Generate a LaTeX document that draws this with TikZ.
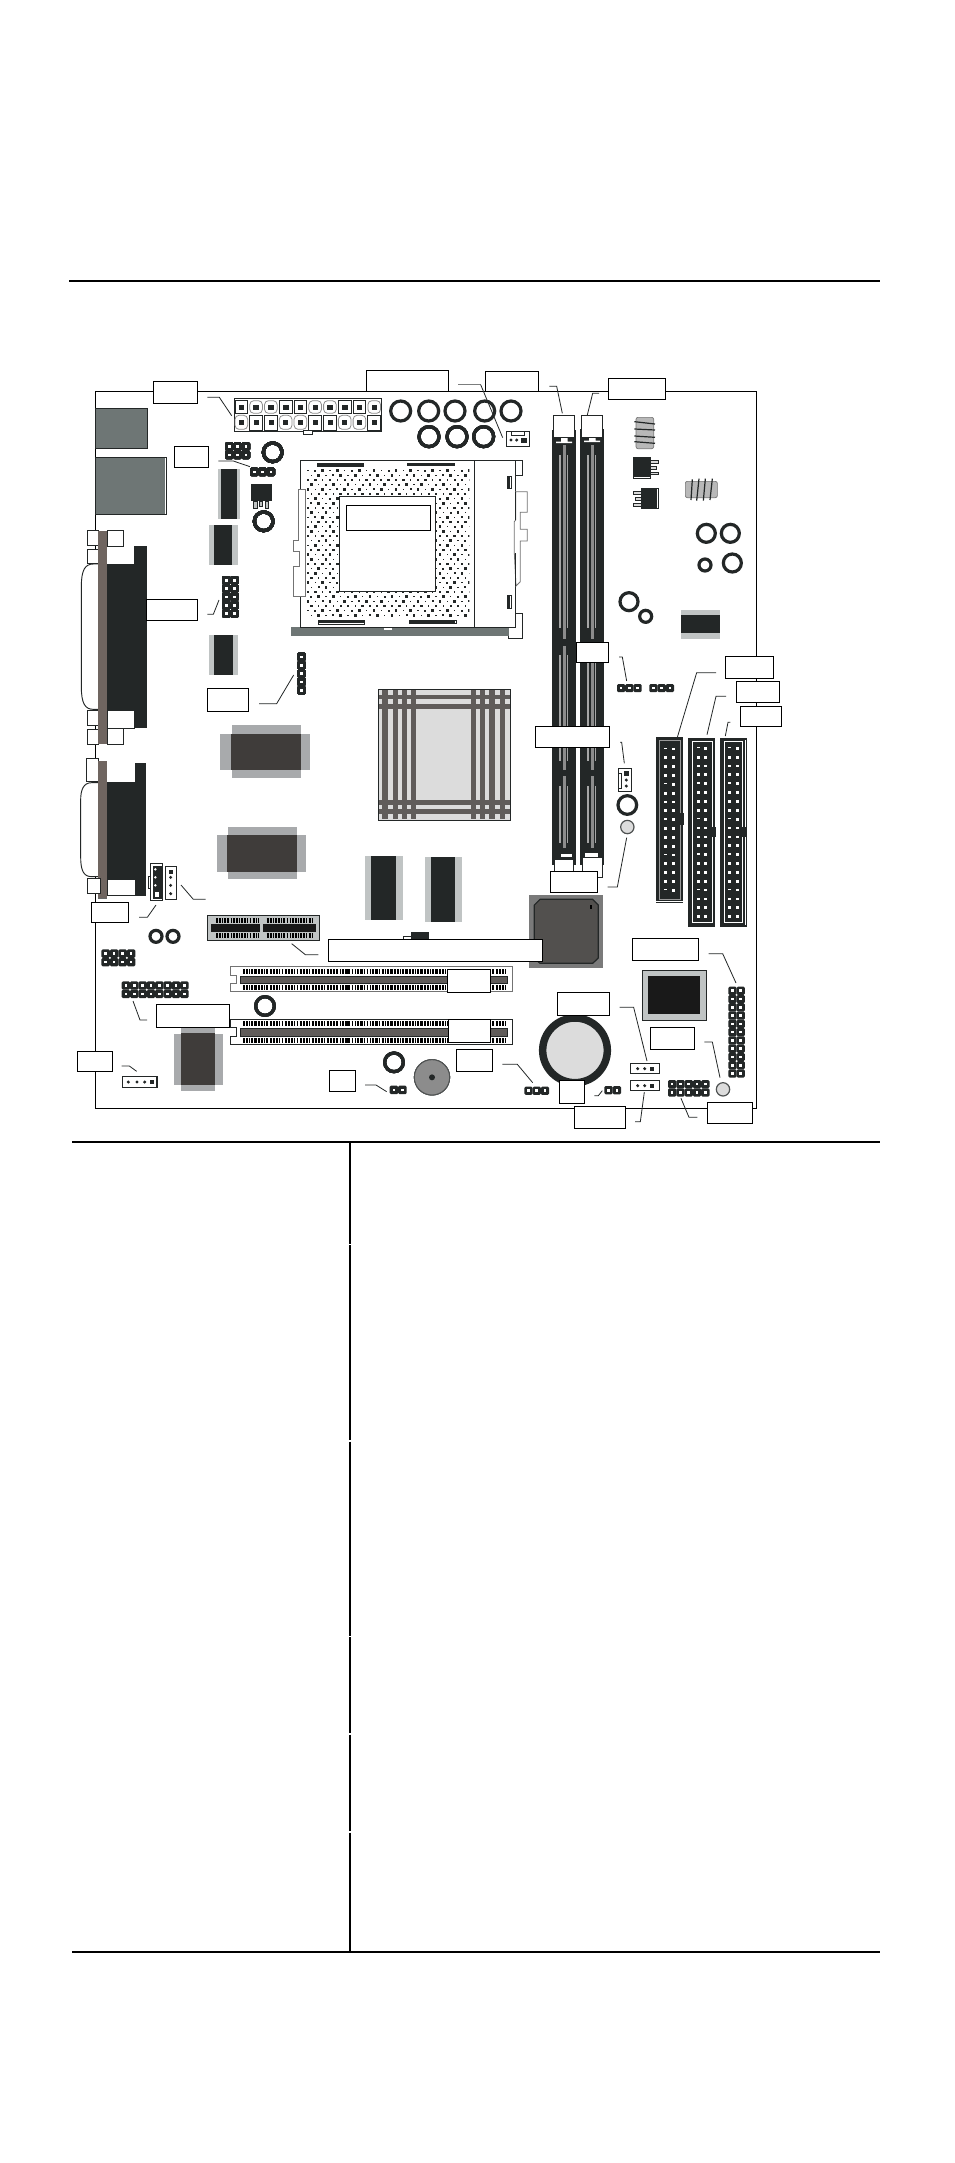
\documentclass[tikz,border=0pt]{standalone}
\definecolor{dk}{HTML}{232727}
\definecolor{usb}{HTML}{6E7675}
\definecolor{brn}{HTML}{6F6560}
\definecolor{lg}{HTML}{C0C4C4}
\definecolor{mg}{HTML}{A8AAAC}
\definecolor{chipd}{HTML}{3F3C3A}
\definecolor{strip}{HTML}{605C5A}
\definecolor{sink}{HTML}{DCDCDC}
\tikzset{
 Za/.style={shift={(70,360)},x=.25pt,y=-.25pt},
 Zb/.style={shift={(500,360)},x=.25pt,y=-.25pt},
 Zc/.style={shift={(70,770)},x=.25pt,y=-.25pt},
 Zd/.style={shift={(500,770)},x=.25pt,y=-.25pt},
 Ze/.style={shift={(290,450)},x=.25pt,y=-.25pt},
 Zf/.style={shift={(370,680)},x=.25pt,y=-.25pt},
 ln/.style={draw=dk,line width=.7pt},
 lead/.style={draw=dk,line width=.6pt},
 leadg/.style={draw=dk!60,line width=.6pt},
 lbl/.style={draw=black,fill=white,line width=.75pt,inner sep=0pt,outer sep=0pt},
 wt/.style={draw=dk,fill=white,line width=.6pt},
 leg/.style={draw=dk,fill=lg,line width=.5pt},
}
% ring: x y outer radius
\newcommand{\ringm}[3]{\draw[dk,line width=2.4pt] (#1,#2) circle ({#3-5});}
% gray circle
\newcommand{\pearl}[3]{\draw[dk!80,fill=sink,line width=.9pt] (#1,#2) circle (#3);}
% pin block: x y nx ny pitch
\newcommand{\pinsm}[5]{%
 \foreach \i in {1,...,#3}{\foreach \j in {1,...,#4}{%
  \fill[dk,rounded corners=1pt] ({#1+(\i-1)*#5},{#2+(\j-1)*#5}) rectangle ++(#5,#5);
  \fill[white] ({#1+(\i-1)*#5+#5/2-4},{#2+(\j-1)*#5+#5/2-4}) rectangle ++(8,8);
 }}}
% label box: name x0 y0 x1 y1
\newcommand{\boxm}[5]{\path ({(#2+#4)/2},{(#3+#5)/2}) node[lbl,minimum width={(#4-#2)*.25pt},minimum height={(#5-#3)*.25pt}] (#1) {};}
% ide pins
\newcommand{\idepins}[5]{%
 \foreach \k in {1,...,#4}{%
  \pgfmathtruncatemacro\m{mod(\k,4)}
  \fill[white] (#1,{#3+(\k-1)*#5-1.4}) rectangle ++(3.4,{\m==1?1.4:2.8});
  \fill[white] (#2,{#3+(\k-1)*#5-1.4}) rectangle ++(2.8,2.8);
 }}
% pci teeth
\newcommand{\teeth}[4]{\draw[black,line width=3.7pt,dash pattern=on 1.4pt off .9pt on 1.4pt off .9pt on .6pt off 1.1pt on 1.4pt off .9pt on 2pt off .7pt] (#1,#2) -- (#3,#2);}
\begin{document}
\begin{tikzpicture}[x=.75pt,y=-.75pt]
\useasboundingbox (0,0) rectangle (954,2163);
\fill[white] (0,0) rectangle (954,2163);
% rules and table
\draw[black,line width=1.6pt] (69,281) -- (880,281);
\draw[black,line width=2.1pt] (72,1142) -- (880,1142);
\draw[black,line width=1.6pt] (72,1952) -- (880,1952);
\foreach \a/\b in {1142/1244,1245.2/1440.4,1441.6/1635.8,1637/1733.4,1734.6/1831.4,1832.6/1952}
 \draw[black,line width=1.8pt] (350,\a) -- (350,\b);
% board
\draw[black,line width=.75pt] (95.5,391.5) rectangle (756,1108.5);

% ---- DIMM slots (absolute)
\fill[dk] (552.3,430) rectangle (576,865);
\fill[dk] (580,429) rectangle (604,865);
\foreach \c in {564.3,592.3}{
 \draw[black!45,line width=2pt] (\c,445) -- (\c,639);
 \draw[black!45,line width=2pt] (\c,646) -- (\c,770);
 \draw[black!45,line width=2pt] (\c,776) -- (\c,848);
 \foreach \s in {-4.3,3}{
  \draw[black!35,line width=.9pt] (\c+\s,455) -- (\c+\s,628);
  \draw[black!35,line width=.9pt] (\c+\s,655) -- (\c+\s,761);
  \draw[black!35,line width=.9pt] (\c+\s,786) -- (\c+\s,843);
 }}
\begin{scope}[Zb]
 \draw[wt] (160,166) rectangle (224,232);
 \draw[wt] (244,166) rectangle (308,232);
 \fill[white] (183,234) rectangle (203,245) (168,245) rectangle (216,249);
 \fill[white] (267,234) rectangle (287,243) (252,242) rectangle (300,246);
\end{scope}
\begin{scope}[Zf]
 \fill[white] (572,522) rectangle (606,532);
 \fill[white] (645,518) rectangle (685,530);
 \draw[wt] (554,537) rectangle (610,580);
 \draw[wt] (638,533) rectangle (697,592);
\end{scope}

% ---- IDE connectors (absolute)
\fill[dk] (656,737.3) rectangle (683,903.3);
\draw[black!40,line width=.7pt] (659.5,740.7) rectangle (680,899);
\draw[white,line width=.7pt] (656,901.6) -- (683,901.6);
\fill[dk] (679,813) rectangle (683.5,825);
\idepins{663.5}{672}{749}{17}{8.83}
\fill[dk] (688,738) rectangle (715,926.7);
\draw[white,line width=.7pt] (692,741) rectangle (712,922.7);
\fill[dk] (709,827) rectangle (715.5,837);
\idepins{696.5}{704}{748.3}{20}{8.86}
\fill[dk] (720,738) rectangle (746.7,926.7);
\draw[white,line width=.7pt] (724,741) rectangle (742.7,922.7);
\draw[white,line width=.6pt] (745.2,740) -- (745.2,925);
\fill[dk] (740,827) rectangle (745.7,837);
\idepins{728}{736}{748.3}{20}{8.86}

\begin{scope}[Za]
 % USB
 \draw[ln,fill=usb] (76,145) rectangle (232,265);
 \draw[ln,fill=usb] (76,292) rectangle (289,463);
 \fill[white] (285,294) rectangle (288,461);
 % power connector
 \draw[ln,fill=white] (493,115) rectangle (934,214);
 \draw[ln,fill=white] (700,212) rectangle (727,223);
 \foreach \i/\r in {1/0,2/1,3/1,4/0,5/0,6/1,7/1,8/0,9/0,10/1}{
  \pgfmathsetmacro\cx{495+(\i-1)*44.3}
  \ifnum\r=1 \draw[black!45,fill=white,line width=.6pt,rounded corners=3pt] (\cx,160) rectangle (\cx+38,122);
  \else \draw[ln,fill=white] (\cx,160) rectangle (\cx+38,122); \fi
  \fill[dk] (\cx+11,134) rectangle (\cx+28,150);
 }
 \foreach \i/\r in {1/1,2/0,3/0,4/1,5/1,6/0,7/0,8/1,9/1,10/0}{
  \pgfmathsetmacro\cx{495+(\i-1)*44.3}
  \ifnum\r=1 \draw[black!45,fill=white,line width=.6pt,rounded corners=3pt] (\cx,208) rectangle (\cx+38,166);
  \else \draw[ln,fill=white] (\cx,210) rectangle (\cx+38,166); \fi
  \fill[dk] (\cx+12,181) rectangle (\cx+27,196);
 }
 % caps
 \foreach \p in {992,1076,1155,1244,1323} \ringm{\p}{153}{35}
 \foreach \p in {1077,1161,1241} \ringm{\p}{230}{35}
 \ringm{608}{277}{33}
 \ringm{581}{484}{33}
 % headers
 \pinsm{465}{247}{3}{2}{25}
 \pinsm{540}{323}{3}{1}{25}
 \pinsm{456}{648}{2}{5}{25}
 \pinsm{682}{878}{1}{5}{25}
 % chips
 \fill[lg] (445,327) rectangle (509,477);
 \fill[dk] (454,327) rectangle (500,477);
 \fill[lg] (418,495) rectangle (503,614);
 \fill[dk] (432,495) rectangle (486,614);
 \fill[lg] (418,825) rectangle (503,944);
 \fill[dk] (432,825) rectangle (489,944);
 % regulator
 \draw[leg] (550,424) rectangle (562,445);
 \draw[leg] (568,424) rectangle (578,440);
 \draw[leg] (586,424) rectangle (596,445);
 \fill[dk] (544,372) rectangle (605,424);
 % DB connector 1
 \draw[ln,fill=white] (85,612) -- (70,612) .. controls (45,612) and (34,630) .. (34,680) -- (34,980) .. controls (34,1030) and (45,1048) .. (70,1048) -- (85,1048);
 \fill[dk] (108,612) rectangle (230,1052);
 \fill[dk] (192,558) rectangle (230,1105);
 \draw[wt] (112,512) rectangle (160,558);
 \draw[wt,draw=none] (112,560) rectangle (192,612);
 \draw[wt] (112,1052) rectangle (192,1105);
 \draw[wt] (112,1105) rectangle (160,1153);
 \foreach \a/\b in {512/556,568/610,1050/1096,1107/1153}
  \draw[wt] (52,\a) rectangle (85,\b);
 \fill[brn] (85,512) rectangle (112,1153);
 % big chip
 \fill[mg] (450,1122) rectangle (720,1230);
 \fill[mg] (486,1095) rectangle (693,1254);
 \fill[chipd] (483,1122) rectangle (693,1230);
\end{scope}

\begin{scope}[Zc]
 % DB connector 2
 \draw[ln,fill=white] (85,38) -- (65,38) .. controls (40,38) and (32,60) .. (32,90) -- (32,260) .. controls (32,300) and (40,320) .. (65,320) -- (85,320);
 \fill[dk] (195,-20) rectangle (228,377);
 \fill[dk] (110,35) rectangle (228,326);
 \draw[wt,draw=none] (108,-20) rectangle (195,36);
 \draw[wt] (49,-34) rectangle (85,35);
 \draw[wt] (112,327) rectangle (195,377);
 \fill[brn] (85,-26) rectangle (112,385);
 \draw[wt] (52,325) rectangle (90,370);
 \draw[dk!70,line width=.5pt] (85,385) -- (112,385);
 % chips
 \fill[mg] (441,195) rectangle (708,305);
 \fill[mg] (474,171) rectangle (681,327);
 \fill[chipd] (471,195) rectangle (681,305);
 \fill[lg] (885,258) rectangle (999,450);
 \fill[dk] (903,258) rectangle (978,450);
 \fill[lg] (1065,261) rectangle (1176,456);
 \fill[dk] (1083,261) rectangle (1155,456);
 \fill[mg] (312,792) rectangle (459,945);
 \fill[mg] (333,772) rectangle (435,962);
 \fill[chipd] (333,790) rectangle (435,945);
 % 4-pin connectors
 \draw[wt] (236,320) rectangle (250,355);
 \draw[wt] (241,281) rectangle (278,392);
 \fill[dk] (248,287) rectangle (275,387);
 \foreach \y in {298,322,346} \fill[white] (256,\y) circle (4);
 \fill[white] (254,367) rectangle (268,381);
 \draw[wt] (285,289) rectangle (320,388);
 \foreach \y in {322,346,371} \fill[dk] (302,\y) circle (5);
 \fill[dk] (296,299) rectangle (310,311);
 \ringm{258}{499}{23}
 \ringm{309}{499}{23}
 \pinsm{94}{538}{4}{2}{25.5}
 \pinsm{155}{634}{8}{2}{25.1}
 % gray slot
 \draw[ln,fill=lg] (412,436) rectangle (749,512);
 \fill[black!90] (423,462) rectangle (570,486);
 \fill[black!90] (579,462) rectangle (738,486);
 \foreach \y in {451.5,497}{
  \draw[black,line width=3.4pt,dash pattern=on 1.4pt off .9pt on 1.4pt off .9pt on .6pt off 1.1pt] (438,\y) -- (566,\y);
  \draw[black,line width=3.4pt,dash pattern=on 1.4pt off .9pt on 1.4pt off .9pt on .6pt off 1.1pt] (590,\y) -- (730,\y);
 }
 % small comb near long label
 \draw[wt] (1000,498) rectangle (1076,510);
 \fill[dk] (1023,487) rectangle (1074,507);
 \draw[ln] (1023,487) -- (1076,487) -- (1076,510);
 % PCI slots
 \draw[draw=black!55,line width=.7pt,fill=white] (481,590) -- (1328,590) -- (1328,665) -- (481,665) -- (481,640) -- (499,640) -- (499,617) -- (481,617) -- cycle;
 \draw[draw=dk,line width=.7pt,fill=white] (481,748) -- (1328,748) -- (1328,822) -- (481,822) -- (481,800) -- (499,800) -- (499,772) -- (481,772) -- cycle;
 \draw[dk,fill=strip,line width=.5pt] (511,619) rectangle (1313,640);
 \draw[dk,fill=strip,line width=.5pt] (511,776) rectangle (1313,800);
 \foreach \y in {604.5,653.5,761.5,812}
  \teeth{519}{\y}{1310}{}
 \ringm{585}{708}{33}
 \ringm{972}{877}{33}
 % speaker
 \draw[dk!80,fill=black!45,line width=.7pt] (1086,922) circle (53);
 \fill[dk] (1086,922) circle (9);
 % small white 4-pin
 \draw[dk,fill=white,line width=.9pt] (158,919) rectangle (261,953);
 \foreach \x in {175,201,224} \fill[dk] (\x,936) circle (5);
 \fill[dk] (240,929) rectangle (252,943);
 \pinsm{959}{947}{2}{1}{25.5}
\end{scope}

\begin{scope}[Zb]
 % coils
 \draw[black!55,fill=black!28,line width=.5pt,rounded corners=1.5pt] (408,172) rectangle (461,266);
 \foreach \a/\b/\c/\d in {403/185/465/192,403/207/465/210,403/228/465/232,403/245/465/250}
  \draw[dk,line width=.9pt] (\a,\b) -- (\c,\d);
 \draw[leg,fill=black!15] (452,301) rectangle (476,311);
 \draw[leg,fill=black!15] (452,319) rectangle (468,329);
 \draw[leg,fill=black!15] (452,337) rectangle (476,344);
 \draw[ln,fill=white] (400,292) rectangle (452,356);
 \fill[dk] (400,292) rectangle (452,350);
 \draw[leg,fill=black!15] (400,394) rectangle (423,404);
 \draw[leg,fill=black!15] (406,412) rectangle (423,421);
 \draw[leg,fill=black!15] (400,430) rectangle (423,440);
 \draw[ln,fill=white] (423,385) rectangle (476,445);
 \fill[dk] (423,385) rectangle (470,445);
 \draw[black!55,fill=black!28,line width=.5pt,rounded corners=1.5pt] (556,364) rectangle (652,413);
 \foreach \a/\b/\c/\d in {577/358/573/420,597/356/590/422,616/356/610/422,637/356/630/420}
  \draw[dk,line width=.9pt] (\a,\b) -- (\c,\d);
 % caps
 \ringm{619}{520}{32}
 \ringm{691}{520}{32}
 \ringm{615}{615}{23}
 \ringm{697}{609}{32}
 \ringm{387}{725}{32}
 \ringm{437}{769}{23}
 % chip
 \fill[lg] (543,750) rectangle (660,837);
 \fill[dk] (543,766) rectangle (660,820);
 \pinsm{351}{972}{3}{1}{24.7}
 \pinsm{448}{972}{3}{1}{24.7}
 % fan connector
 \draw[dk,fill=white,line width=.7pt] (19,214) rectangle (89,260);
 \draw[dk,line width=.5pt] (34,214) -- (34,226) -- (74,226) -- (74,214);
 \fill[dk] (33,240) circle (5) (50,240) circle (5);
 \fill[dk] (63,234) rectangle (81,248);
\end{scope}

% ---- CPU socket
\begin{scope}[Ze]
 \draw[ln,fill=white] (676,31) -- (697,31) -- (697,76) -- (676,76);
 \draw[ln,fill=white] (676,490) -- (697,490) -- (697,565) -- (655,565) -- (655,555);
 \fill[usb] (4,532) rectangle (656,558);
 \fill[white] (282,533) rectangle (306,540);
 \draw[ln,fill=white] (31,31) rectangle (676,531);
 \draw[ln] (553,31) -- (553,531);
 \begin{scope}
 \clip (48,58) rectangle (538,498);
 \foreach \j in {0,...,31}{\foreach \i in {0,...,22}{
  \pgfmathsetmacro\sz{3.5+mod(\i*7+\j*11,5)*1.3}
  \pgfmathsetmacro\px{54+\i*22+mod(\j,2)*10}
  \pgfmathsetmacro\py{62+\j*14}
  \fill[dk] (\px-\sz/2,\py-\sz/2) rectangle (\px+\sz/2,\py+\sz/2);
 }}
 \end{scope}
 \draw[ln,fill=white] (148,138) rectangle (436,424);
 \node[lbl,minimum width=63.25pt,minimum height=18.75pt] (cpulabel) at (294.5,203.5) {};
 \fill[dk] (81,39) rectangle (222,50);
 \fill[dk] (351,39) rectangle (495,48);
 \draw[dk,fill=white,line width=.5pt] (84,511) rectangle (224,523);
 \fill[dk] (84,511) rectangle (224,518);
 \draw[dk,fill=white,line width=.5pt] (357,511) rectangle (500,521);
 \fill[dk] (357,511) rectangle (495,521);
 \draw[dk,fill=white,line width=.4pt] (652,78) rectangle (664,116);
 \fill[dk] (655,78) rectangle (661,116);
 \draw[dk,fill=white,line width=.4pt] (652,435) rectangle (664,476);
 \fill[dk] (655,435) rectangle (661,476);
 % levers
 \draw[black!55,fill=white,line width=.6pt] (25,118) -- (45,118) -- (45,438) -- (10,438) -- (10,350) -- (28,350) -- (28,303) -- (10,303) -- (10,270) -- (25,270) -- cycle;
 \draw[black!55,fill=white,line width=.6pt] (677,125) -- (712,125) -- (712,187) -- (691,187) -- (691,238) -- (712,238) -- (712,273) -- (691,273) -- (691,395) -- (678,408) -- (673,310) -- (673,215) -- (677,210) -- cycle;
 \draw[dk,line width=.8pt] (677,125) -- (677,210);
 \draw[dk,line width=.8pt] (677,310) -- (677,408);
\end{scope}

% ---- heatsink
\begin{scope}[Zf]
 \draw[dk,fill=sink,line width=.7pt] (25,28) rectangle (421,421);
 \foreach \a/\b in {37/53,69/83,97/111,123/137,303/317,331/345,357/375,391/405}
  \fill[strip] (\a,29) rectangle (\b,418);
 \foreach \a/\b in {44/58,72/86,360/374,388/402}
  \fill[strip] (26,\a) rectangle (420,\b);
 % fan connector
 \draw[dk,fill=white,line width=.7pt] (745,265) rectangle (785,335);
 \draw[dk,line width=.5pt] (745,280) -- (755,280) -- (755,325) -- (745,325);
 \fill[dk] (762,272) rectangle (776,287);
 \fill[dk] (769,300) circle (5) (769,318) circle (5);
 \ringm{772}{375}{33}
 \pearl{772}{441}{20}
\end{scope}

\begin{scope}[Zd]
 % bios-like chip
 \fill[black!52] (87,376) rectangle (309,594);
 \draw[dk,fill=chipd!90!white,line width=.9pt] (120,388) -- (278,388) -- (295,405) -- (295,564) -- (278,580) -- (120,580) -- (103,564) -- (103,405) -- cycle;
 \fill[black] (271,405) rectangle (276,416);
 % PLCC
 \draw[dk,fill=lg,line width=.7pt] (427,601) rectangle (619,751);
 \fill[black!90] (444,618) rectangle (600,732);
 % battery
 \draw[dk,fill=sink,line width=5.6pt] (225,841) circle (97);
 % headers
 \pinsm{685}{650}{2}{11}{24.8}
 \pinsm{504}{930}{5}{2}{24.9}
 \pearl{669}{958}{20}
 % jumpers
 \foreach \y in {881,932}{
  \draw[dk,fill=white,line width=.8pt] (391,\y) rectangle (479,\y+29);
  \fill[dk] (413,\y+15) circle (5) (434,\y+15) circle (5);
  \fill[dk] (451,\y+9) rectangle (462,\y+21);
 }
 \pinsm{313}{948}{2}{1}{25}
 \pinsm{73}{950}{3}{1}{24.7}
\end{scope}

% ---- leader lines
\begin{scope}[Za]
 \draw[lead] (412,112) -- (448,112) -- (485,167);
 \draw[lead] (445,303) -- (490,303) -- (540,320);
 \draw[lead] (412,763) -- (430,763) -- (447,720);
 \draw[lead] (567,1031) -- (620,1031) -- (671,945);
 \draw[leadg] (1165,74) -- (1232,74);
 \draw[lead] (1232,74) -- (1298,233);
\end{scope}
\begin{scope}[Zb]
 \draw[lead] (148,79) -- (170,79) -- (187,160);
 \draw[lead] (297,100) -- (278,100) -- (262,165);
 \draw[lead] (357,891) -- (367,891) -- (380,963);
 \draw[lead] (648,938) -- (590,938) -- (532,1132);
 \draw[lead] (678,1009) -- (648,1009) -- (621,1124);
 \draw[lead] (691,1087) -- (684,1087) -- (676,1128);
 \draw[lead] (360,1147) -- (365,1147) -- (373,1210);
\end{scope}
\begin{scope}[Zc]
 \draw[lead] (333,345) -- (370,388) -- (407,388);
 \draw[lead] (207,442) -- (232,442) -- (258,405);
 \draw[lead] (665,521) -- (706,554) -- (745,554);
 \draw[lead] (189,693) -- (210,750) -- (231,750);
 \draw[lead] (155,888) -- (178,888) -- (200,904);
 \draw[lead] (885,945) -- (918,945) -- (950,965);
\end{scope}
\begin{scope}[Zd]
 \draw[lead] (7,883) -- (52,883) -- (98,938);
 \draw[lead] (323,351) -- (352,351) -- (380,203);
 \draw[lead] (626,551) -- (668,551) -- (708,639);
 \draw[lead] (359,712) -- (401,712) -- (441,873);
 \draw[lead] (613,816) -- (637,816) -- (660,923);
 \draw[lead] (283,977) -- (295,977) -- (307,962);
 \draw[lead] (405,1055) -- (421,1055) -- (433,966);
 \draw[lead] (543,985) -- (567,1042) -- (592,1042);
\end{scope}

% ---- white label boxes
\begin{scope}[Za]
 \boxm{la}{250}{64}{382}{130}
 \boxm{lb}{313}{259}{415}{322}
 \boxm{lc}{889}{31}{1135}{94}
 \boxm{ld}{1246}{34}{1404}{94}
 \boxm{le}{230}{718}{382}{781}
 \boxm{lf}{412}{985}{535}{1054}
\end{scope}
\begin{scope}[Zb]
 \boxm{lg1}{325}{55}{497}{118}
 \boxm{lh}{676}{889}{821}{956}
 \boxm{li}{709}{964}{839}{1028}
 \boxm{lj}{721}{1039}{845}{1100}
 \boxm{lk}{106}{1099}{329}{1163}
 \boxm{ll}{229}{847}{325}{907}
\end{scope}
\begin{scope}[Zc]
 \boxm{lm}{64}{397}{176}{458}
 \boxm{ln1}{775}{508}{1416}{574}
 \boxm{lo}{1132}{598}{1262}{668}
 \boxm{lp}{1135}{748}{1262}{818}
 \boxm{lq}{259}{703}{479}{773}
 \boxm{lr}{1159}{838}{1268}{905}
 \boxm{ls}{778}{901}{857}{965}
 \boxm{lt}{22}{844}{128}{905}
\end{scope}
\begin{scope}[Zd]
 \boxm{lu}{151}{304}{293}{368}
 \boxm{lv}{397}{505}{596}{572}
 \boxm{lw}{172}{667}{329}{737}
 \boxm{lx}{451}{772}{584}{838}
 \boxm{ly}{178}{931}{254}{1001}
 \boxm{lz}{223}{1009}{377}{1076}
 \boxm{lza}{622}{997}{758}{1061}
\end{scope}
\end{tikzpicture}
\end{document}
